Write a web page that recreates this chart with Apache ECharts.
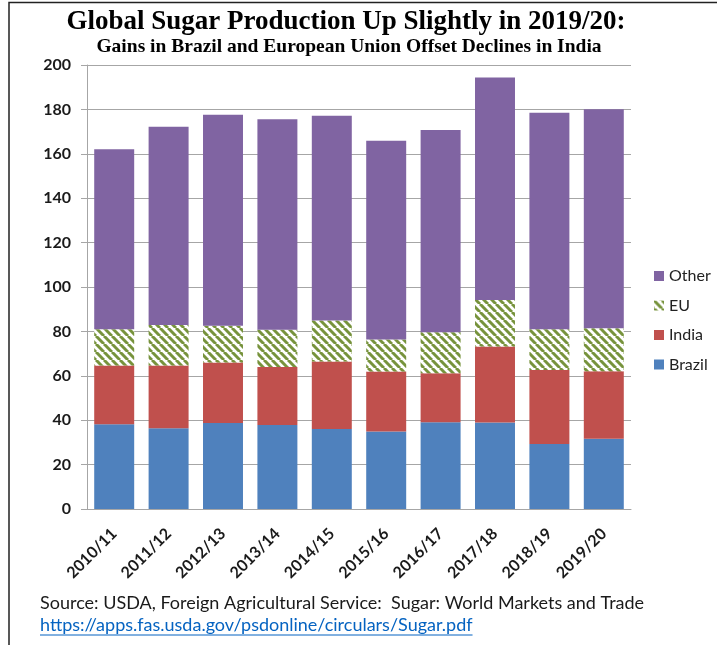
<!DOCTYPE html>
<html>
<head>
<meta charset="utf-8">
<script src="https://cdn.jsdelivr.net/npm/echarts@6/dist/echarts.min.js"></script>
<style>
html,body{margin:0;padding:0;background:#fff;}
#chart{width:717px;height:645px;}
</style>
</head>
<body>
<div id="chart"></div>
<script>
var categories = ['2010/11','2011/12','2012/13','2013/14','2014/15','2015/16','2016/17','2017/18','2018/19','2019/20'];
var brazil = [38.2, 36.4, 38.7, 37.8, 36.0, 34.9, 39.1, 39.0, 29.3, 31.6];
var india  = [26.4, 28.2, 27.3, 26.2, 30.4, 27.0, 22.1, 34.2, 33.3, 30.5];
var eu     = [16.4, 18.3, 16.6, 16.7, 18.5, 14.4, 18.4, 21.0, 18.4, 19.3];
var other  = [81.0, 89.3, 95.0, 94.9, 92.2, 89.6, 91.1, 100.2, 97.5, 98.7];
var yTicks = {min: 0, max: 200, interval: 20};
var titleText = 'Global Sugar Production Up Slightly in 2019/20:';
var subtitleText = 'Gains in Brazil and European Union Offset Declines in India';
var sourceText = 'Source: USDA, Foreign Agricultural Service:  Sugar: World Markets and Trade';
var linkText = 'https://apps.fas.usda.gov/psdonline/circulars/Sugar.pdf';

// diagonal stripe pattern for EU
var pc = document.createElement('canvas');
pc.width = 8; pc.height = 8;
var px = pc.getContext('2d');
px.fillStyle = '#ffffff';
px.fillRect(0,0,8,8);
px.strokeStyle = '#77933C';
px.lineWidth = 3;
[-8,0,8].forEach(function(o){
  px.beginPath();
  px.moveTo(o,0);
  px.lineTo(o+8,8);
  px.stroke();
});

var meas = document.createElement('canvas').getContext('2d');
meas.font = '18px Lato';
var linkW = meas.measureText(linkText).width;

var chart = echarts.init(document.getElementById('chart'), null, {renderer:'canvas'});
var labelFont = {fontFamily:'Lato', fontWeight:'bold', fontSize:16, color:'#1a1a1a'};

chart.setOption({
  animation:false,
  backgroundColor:'#ffffff',
  grid:{left:87, right:86, top:65, bottom:136, containLabel:false},
  legend:{
    orient:'vertical', left:649, top:263,
    itemWidth:10, itemHeight:10, itemGap:13.5,
    icon:'rect',
    textStyle:{fontFamily:'Lato', fontSize:16, color:'#222'},
    data:['Other','EU','India','Brazil']
  },
  xAxis:{
    type:'category', data:categories,
    axisLine:{show:true, lineStyle:{color:'#a6a6a6', width:1}},
    axisTick:{show:false},
    axisLabel:Object.assign({rotate:45, margin:22, interval:0}, labelFont)
  },
  yAxis:{
    type:'value', min:yTicks.min, max:yTicks.max, interval:yTicks.interval,
    axisLine:{show:true, lineStyle:{color:'#a6a6a6', width:1}},
    axisTick:{show:true, length:6, lineStyle:{color:'#a6a6a6'}},
    splitLine:{show:true, lineStyle:{color:'#a6a6a6', width:1}},
    axisLabel:Object.assign({margin:16}, labelFont)
  },
  series:[
    {name:'Brazil', type:'bar', stack:'t', data:brazil, barCategoryGap:'26.5%', itemStyle:{color:'#4F81BD'}},
    {name:'India', type:'bar', stack:'t', data:india, itemStyle:{color:'#C0504D'}},
    {name:'EU', type:'bar', stack:'t', data:eu, itemStyle:{color:{image:pc, repeat:'repeat'}}},
    {name:'Other', type:'bar', stack:'t', data:other, itemStyle:{color:'#8064A2'}}
  ],
  graphic:[
    {type:'polyline', shape:{points:[[9,645],[9,2.5],[717,2.5]]}, style:{stroke:'#222', lineWidth:1.5, fill:null}, silent:true},
    {type:'text', x:346, y:22, style:{text:titleText, font:'bold 27px "Liberation Serif"', fill:'#000', textAlign:'center', textVerticalAlign:'middle'}},
    {type:'text', x:349, y:47, style:{text:subtitleText, font:'bold 19.5px "Liberation Serif"', fill:'#000', textAlign:'center', textVerticalAlign:'middle'}},
    {type:'text', x:40, y:603, style:{text:sourceText, font:'18px Lato', fill:'#1a1a1a', textAlign:'left', textVerticalAlign:'middle'}},
    {type:'text', x:40, y:625, style:{text:linkText, font:'18px Lato', fill:'#0563C1', textAlign:'left', textVerticalAlign:'middle'}},
    {type:'line', shape:{x1:40, y1:635, x2:40+linkW, y2:635}, style:{stroke:'#0563C1', lineWidth:1}}
  ]
});
</script>
</body>
</html>
